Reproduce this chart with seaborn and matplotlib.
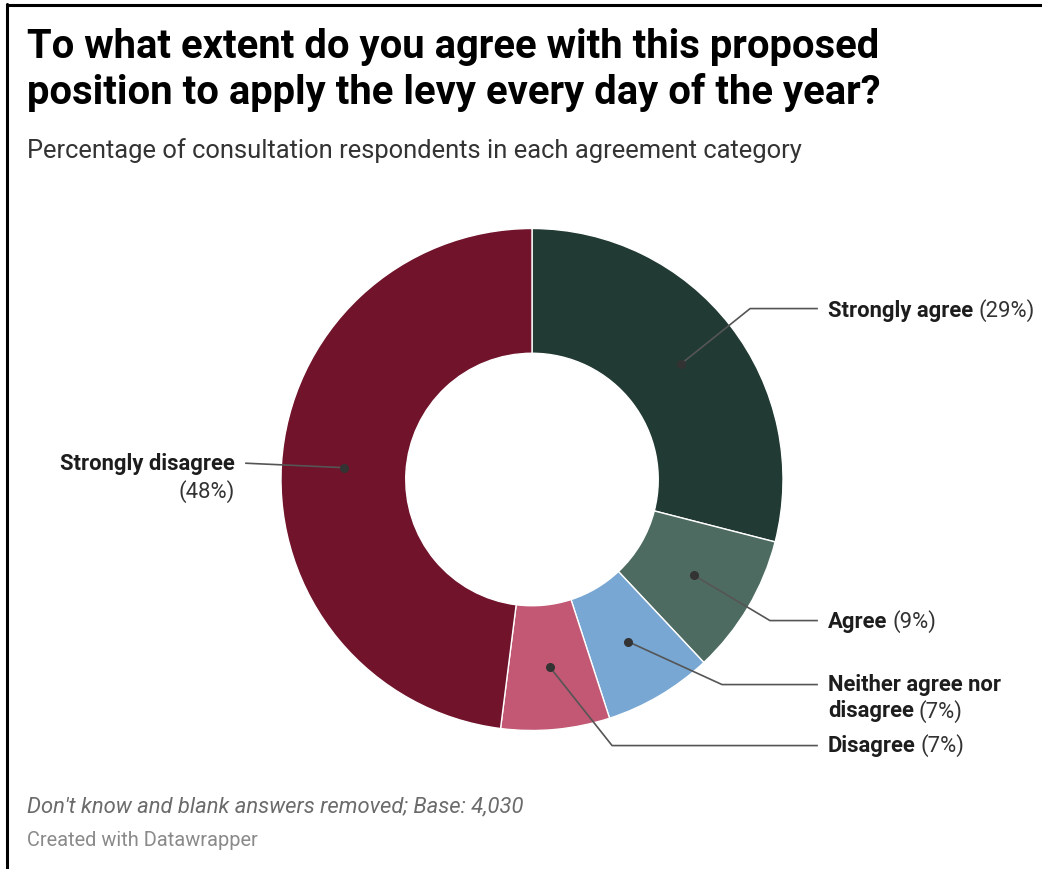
import numpy as np
import matplotlib
matplotlib.use("Agg")
import matplotlib.pyplot as plt
import seaborn as sns

# Survey results
categories = ["Strongly agree", "Agree", "Neither agree nor\ndisagree", "Disagree", "Strongly disagree"]
shares = [29, 9, 7, 7, 48]
colors = ["#213a33", "#4e6b62", "#78a7d3", "#c25873", "#70132b"]

title = "To what extent do you agree with this proposed\nposition to apply the levy every day of the year?"
subtitle = "Percentage of consultation respondents in each agreement category"
note = "Don't know and blank answers removed; Base: 4,030"
credit = "Created with Datawrapper"

sns.set_theme(style="white")
plt.rcParams["font.family"] = ["Roboto", "DejaVu Sans"]

W, H = 1042, 869
fig = plt.figure(figsize=(W / 100, H / 100), dpi=100)
fig.patch.set_facecolor("white")

# Frame lines on top and left edges
fig.add_artist(plt.Line2D([6.5 / W, 6.5 / W], [0, 1 - 4 / H], color="black", lw=2.2, transform=fig.transFigure))
fig.add_artist(plt.Line2D([6.5 / W, 1], [1 - 4.5 / H, 1 - 4.5 / H], color="black", lw=2.2, transform=fig.transFigure))

# Donut axes: centre and radius in pixels
cx, cy, R = 532, 479.5, 251
ax = fig.add_axes([(cx - R) / W, (H - cy - R) / H, 2 * R / W, 2 * R / H])

wedges, _ = ax.pie(shares, colors=colors, startangle=90, counterclock=False, radius=1,
                   wedgeprops=dict(width=0.497, edgecolor="white", linewidth=1.0))
ax.set_xlim(-1, 1)
ax.set_ylim(-1, 1)
ax.set_aspect("equal")
ax.axis("off")

# Label layout: (elbow point, line end, text x, text y, alignment) in donut units
layout = [
    ((0.869, 0.681), 1.139, 1.179, 0.673, "left"),
    ((0.948, -0.562), 1.139, 1.179, -0.566, "left"),
    ((0.757, -0.817), 1.139, 1.179, -0.820, "left"),
    ((0.319, -1.060), 1.139, 1.179, -1.060, "left"),
    ((-1.143, 0.065), -1.143, -1.183, 0.062, "right"),
]

fs = 15.8
rmid = 0.75
for w, cat, val, (elbow, xend, tx, ty, ha) in zip(wedges, categories, shares, layout):
    mid = np.deg2rad((w.theta1 + w.theta2) / 2)
    px, py = rmid * np.cos(mid), rmid * np.sin(mid)
    ax.plot([px, elbow[0], xend], [py, elbow[1], elbow[1]], color="#555555", lw=1.2,
            clip_on=False, solid_capstyle="butt", zorder=4)
    ax.plot([px], [py], marker="o", ms=5.5, color="#333333", clip_on=False, zorder=5)
    pct = f"({val}%)"
    lines = cat.split("\n")
    if ha == "left":
        t = None
        # bold name followed by regular percentage on the final line
        for i, ln in enumerate(lines):
            yy = ty - i * 26 / R
            t = ax.text(tx, yy, ln, ha="left", va="center", fontsize=fs, fontweight="bold",
                        color="#1d1d1d", clip_on=False)
        fig.canvas.draw()
        bb = t.get_window_extent()
        x_after = ax.transData.inverted().transform((bb.x1, bb.y0))[0]
        ax.text(x_after + 5 / R, yy, pct, ha="left", va="center", fontsize=fs,
                color="#333333", clip_on=False)
    else:
        ax.text(tx, ty, cat, ha="right", va="center", fontsize=fs, fontweight="bold",
                color="#1d1d1d", clip_on=False)
        ax.text(tx, ty - 28 / R, pct, ha="right", va="center", fontsize=fs,
                color="#333333", clip_on=False)

# Headline text
fig.text(27 / W, 1 - 47 / H, title.split("\n")[0], ha="left", va="center", fontsize=28.8,
         fontweight="bold", color="#000000")
fig.text(27 / W, 1 - 93 / H, title.split("\n")[1], ha="left", va="center", fontsize=28.8,
         fontweight="bold", color="#000000")
fig.text(27 / W, 1 - 151 / H, subtitle, ha="left", va="center", fontsize=18.4, color="#333333")
fig.text(27 / W, 1 - 807 / H, note, ha="left", va="center", fontsize=15.8, style="italic",
         color="#6b6b6b")
fig.text(27 / W, 1 - 841 / H, credit, ha="left", va="center", fontsize=14.4, color="#8a8a8a")

fig.savefig("out.png", dpi=100, facecolor="white")
